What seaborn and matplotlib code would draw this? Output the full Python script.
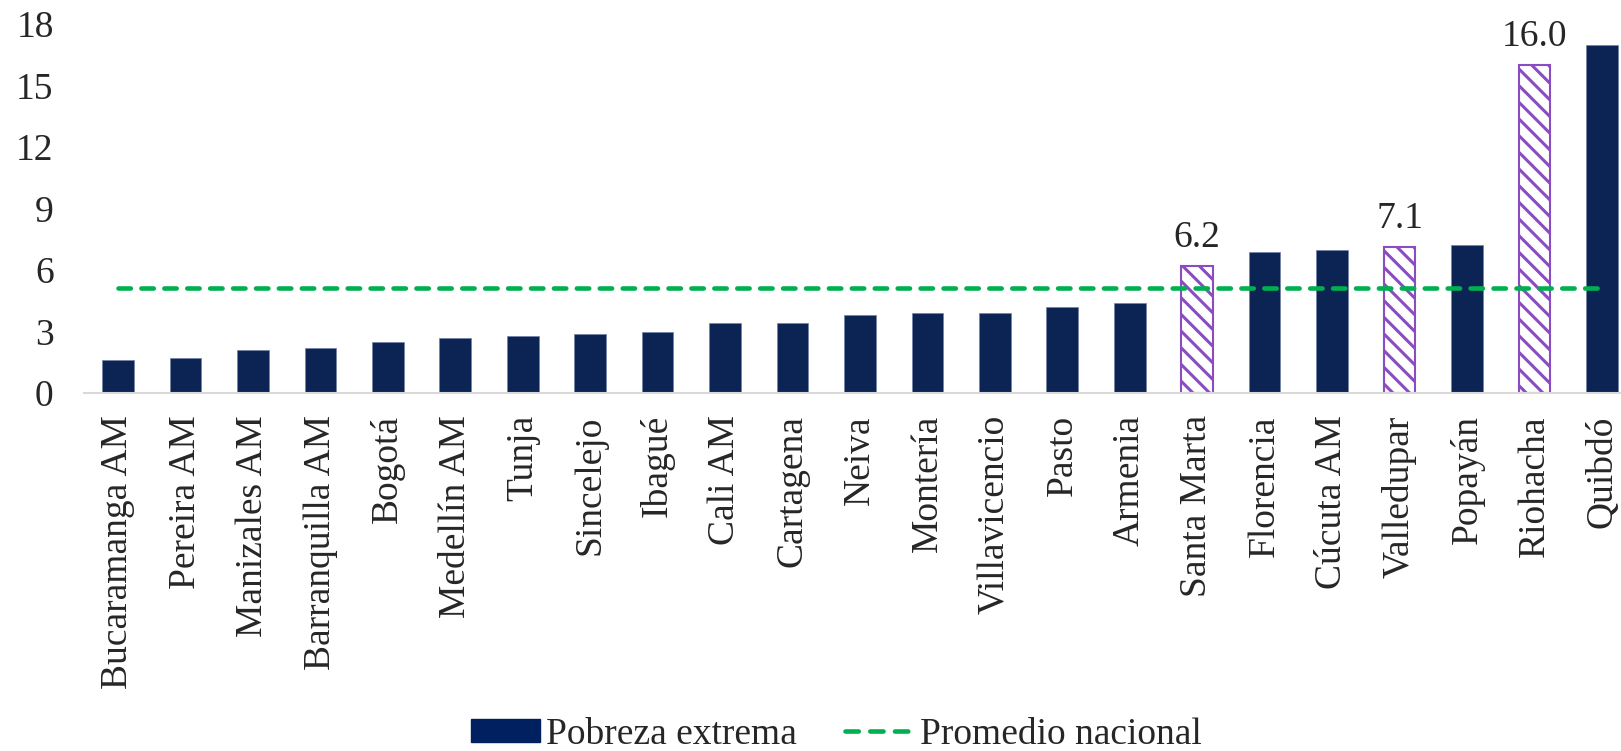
import numpy as np
import pandas as pd
import matplotlib
matplotlib.use("Agg")
import matplotlib.pyplot as plt
import seaborn as sns
from matplotlib.patches import Patch
from matplotlib.lines import Line2D

# Data
cities = ['Bucaramanga AM', 'Pereira AM', 'Manizales AM', 'Barranquilla AM', 'Bogotá',
          'Medellín AM', 'Tunja', 'Sincelejo', 'Ibagué', 'Cali AM', 'Cartagena', 'Neiva',
          'Montería', 'Villavicencio', 'Pasto', 'Armenia', 'Santa Marta', 'Florencia',
          'Cúcuta AM', 'Valledupar', 'Popayán', 'Riohacha', 'Quibdó']
pobreza = [1.6, 1.7, 2.1, 2.2, 2.5, 2.7, 2.8, 2.9, 3.0, 3.4, 3.4, 3.8, 3.9, 3.9,
           4.2, 4.4, 6.2, 6.9, 7.0, 7.1, 7.2, 16.0, 17.0]
highlighted = ['Santa Marta', 'Valledupar', 'Riohacha']
promedio_nacional = 5.1
y_ticks = [0, 3, 6, 9, 12, 15, 18]

NAVY = '#002060'
GREEN = '#00B050'
PURPLE = '#8A4CC0'
TEXT = '#262626'
FS = 27

sns.set_theme(style='white')
plt.rcParams['font.family'] = ['Liberation Serif', 'DejaVu Serif']
plt.rcParams['hatch.color'] = PURPLE
plt.rcParams['hatch.linewidth'] = 2.2

df = pd.DataFrame({'city': cities, 'value': pobreza})
df['group'] = np.where(df['city'].isin(highlighted), 'destacado', 'normal')

fig = plt.figure(figsize=(16.21, 7.51), dpi=100)
ax = fig.add_axes([0.052, 0.4767, 0.957, 0.4913])

sns.barplot(data=df, x='city', y='value', hue='group', hue_order=['normal', 'destacado'],
            palette={'normal': NAVY, 'destacado': 'white'}, dodge=False, width=0.47,
            legend=False, ax=ax, order=cities)

# style the bars
for cont, grp in zip(ax.containers, ['normal', 'destacado']):
    for bar in cont:
        if grp == 'normal':
            bar.set_edgecolor('#7080a8')
            bar.set_linewidth(0.5)
        else:
            bar.set_facecolor('white')
            bar.set_edgecolor(PURPLE)
            bar.set_hatch('\\\\')
            bar.set_linewidth(1.5)

hl = ax.containers[1]
labels = [f'{b.get_height():.1f}' if b.get_height() > 0 else '' for b in hl]
ax.bar_label(hl, labels=labels, padding=8, fontsize=FS, color=TEXT)

# national average line
sns.lineplot(x=np.arange(len(cities)), y=[promedio_nacional] * len(cities), ax=ax,
             color=GREEN, linewidth=3.3, dashes=False)
line = ax.lines[-1]
line.set_dashes((2.7, 2.3))
line.set_dash_capstyle('round')

ax.set_xlim(-0.5, len(cities) - 0.5)
ax.set_ylim(0, 18)
ax.set_yticks(y_ticks)
ax.set_xlabel('')
ax.set_ylabel('')
ax.tick_params(axis='y', length=0, pad=22, labelsize=FS, labelcolor=TEXT)
ax.tick_params(axis='x', length=0, pad=16, labelsize=FS, labelcolor=TEXT, rotation=90)

for side in ['left', 'right', 'top']:
    ax.spines[side].set_visible(False)
ax.spines['bottom'].set_color('#D9D9D9')
ax.spines['bottom'].set_linewidth(1.5)
ax.grid(False)

handles = [Patch(facecolor=NAVY, edgecolor=NAVY, label='Pobreza extrema'),
           Line2D([0], [0], color=GREEN, linewidth=3.3, dashes=(2.9, 2.5),
                  dash_capstyle='round', label='Promedio nacional')]
fig.legend(handles=handles, loc='center', bbox_to_anchor=(0.516, 0.022), ncol=2,
           frameon=False, fontsize=FS, handlelength=1.85, handleheight=0.55,
           handletextpad=0.15, columnspacing=1.3, labelcolor=TEXT)

fig.savefig('out.png', dpi=100)
